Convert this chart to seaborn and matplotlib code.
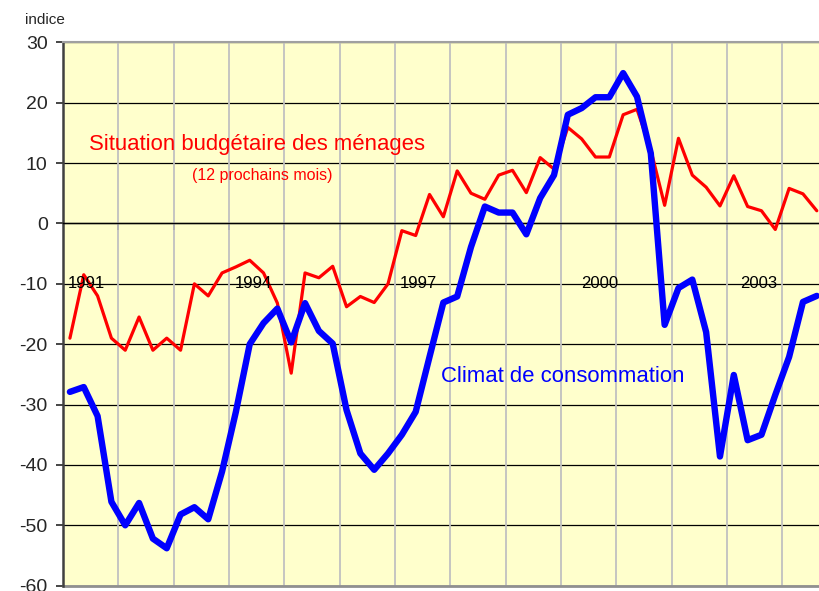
import numpy as np
import pandas as pd
import matplotlib
matplotlib.use("Agg")
import matplotlib.pyplot as plt
import seaborn as sns

# quarterly series, 1991Q1 .. 2004Q3
budget = [-19, -8.5, -12, -19, -21, -15.5, -21, -19, -21, -10,
          -12, -8.2, -7.2, -6.1, -8.2, -13.2, -24.8, -8.2, -9, -7.1,
          -13.8, -12.1, -13.1, -10, -1.2, -2, 4.8, 1.1, 8.7, 5,
          4, 8, 8.8, 5.1, 10.9, 9, 15.9, 14, 11, 11,
          18, 18.9, 12.2, 3, 14.1, 8, 6, 2.9, 7.9, 2.8,
          2.1, -1, 5.8, 4.9, 2.1]
climat = [-27.9, -27.1, -31.9, -46.1, -50, -46.3, -52.2, -53.8, -48.2, -47,
          -49, -41.1, -31.2, -20, -16.5, -14.1, -19.7, -13.2, -17.8, -19.9,
          -30.9, -38.1, -40.8, -38.1, -35, -31.2, -22.1, -13.1, -12.1, -3.9,
          2.8, 1.8, 1.8, -1.8, 4.2, 8, 18, 19.1, 20.9, 20.9,
          24.9, 21, 11.6, -16.8, -10.7, -9.3, -18, -38.6, -25.1, -35.9,
          -35, -28.4, -22.1, -13, -12]
year_labels = ["1991", "1994", "1997", "2000", "2003"]
y_ticks = [30, 20, 10, 0, -10, -20, -30, -40, -50, -60]

year_label_pos = [1.2, 13.3, 25.2, 38.3, 49.8]

q = np.arange(len(budget))
df = pd.DataFrame({"q": q, "budget": budget, "climat": climat})

sns.set_style("white")
plt.rcParams["font.family"] = ["Liberation Sans", "DejaVu Sans"]
plt.rcParams["axes.unicode_minus"] = False

fig = plt.figure(figsize=(8.2, 5.91), dpi=100)
ax = fig.add_axes([63 / 820, 1 - 585.7 / 591, (823.7 - 63) / 820, 543.4 / 591])
ax.set_facecolor("#FFFFCC")

# grid
for v in y_ticks:
    ax.axhline(v, color="black", lw=0.9, zorder=1)
bounds = np.arange(3.5, len(budget), 4)
for b in bounds:
    ax.axvline(b, color="#C0C0C0", lw=1.3, zorder=1)

sns.lineplot(data=df, x="q", y="budget", color="#FF0000", lw=2.3, ax=ax, zorder=3)
sns.lineplot(data=df, x="q", y="climat", color="#0000FF", lw=4.6, ax=ax, zorder=4)

ax.set_xlim(-0.5, len(budget) - 0.5)
ax.set_ylim(-60, 30)
ax.set_xlabel("")
ax.set_ylabel("")

ax.set_yticks(y_ticks)
ax.set_yticklabels([str(v) for v in y_ticks], fontsize=14)
ax.tick_params(axis="y", direction="out", length=5, width=1.2, pad=6, left=True)

# category axis crossing at zero
ax.spines["bottom"].set_position(("data", 0))
ax.spines["bottom"].set_color("black")
ax.spines["bottom"].set_linewidth(1.0)
ax.set_xticks(bounds)
ax.set_xticklabels([])
ax.tick_params(axis="x", direction="out", length=5, width=1.2, bottom=True)
ax.axhline(-60, color="#909090", lw=2, zorder=2, clip_on=False)
ax.spines["left"].set_color("#404040")
ax.spines["left"].set_linewidth(1.8)
ax.spines["top"].set_color("#A0A0A0")
ax.spines["top"].set_linewidth(1.5)
ax.spines["right"].set_visible(False)

for lab, pos in zip(year_labels, year_label_pos):
    ax.text(pos, -10, lab, ha="center", va="center", fontsize=12,
            color="black", zorder=5)

ax.text(1.38, 13.0, "Situation budgétaire des ménages", color="#FF0000",
        fontsize=15.9, ha="left", va="center", zorder=5)
ax.text(8.83, 8.0, "(12 prochains mois)", color="#FF0000",
        fontsize=11.5, ha="left", va="center", zorder=5)
ax.text(26.83, -25.4, "Climat de consommation", color="#0000FF",
        fontsize=15.9, ha="left", va="center", zorder=5)

fig.text(25 / 820, 1 - 20 / 591, "indice", fontsize=11, ha="left", va="center")

fig.savefig("out.png", dpi=100)
